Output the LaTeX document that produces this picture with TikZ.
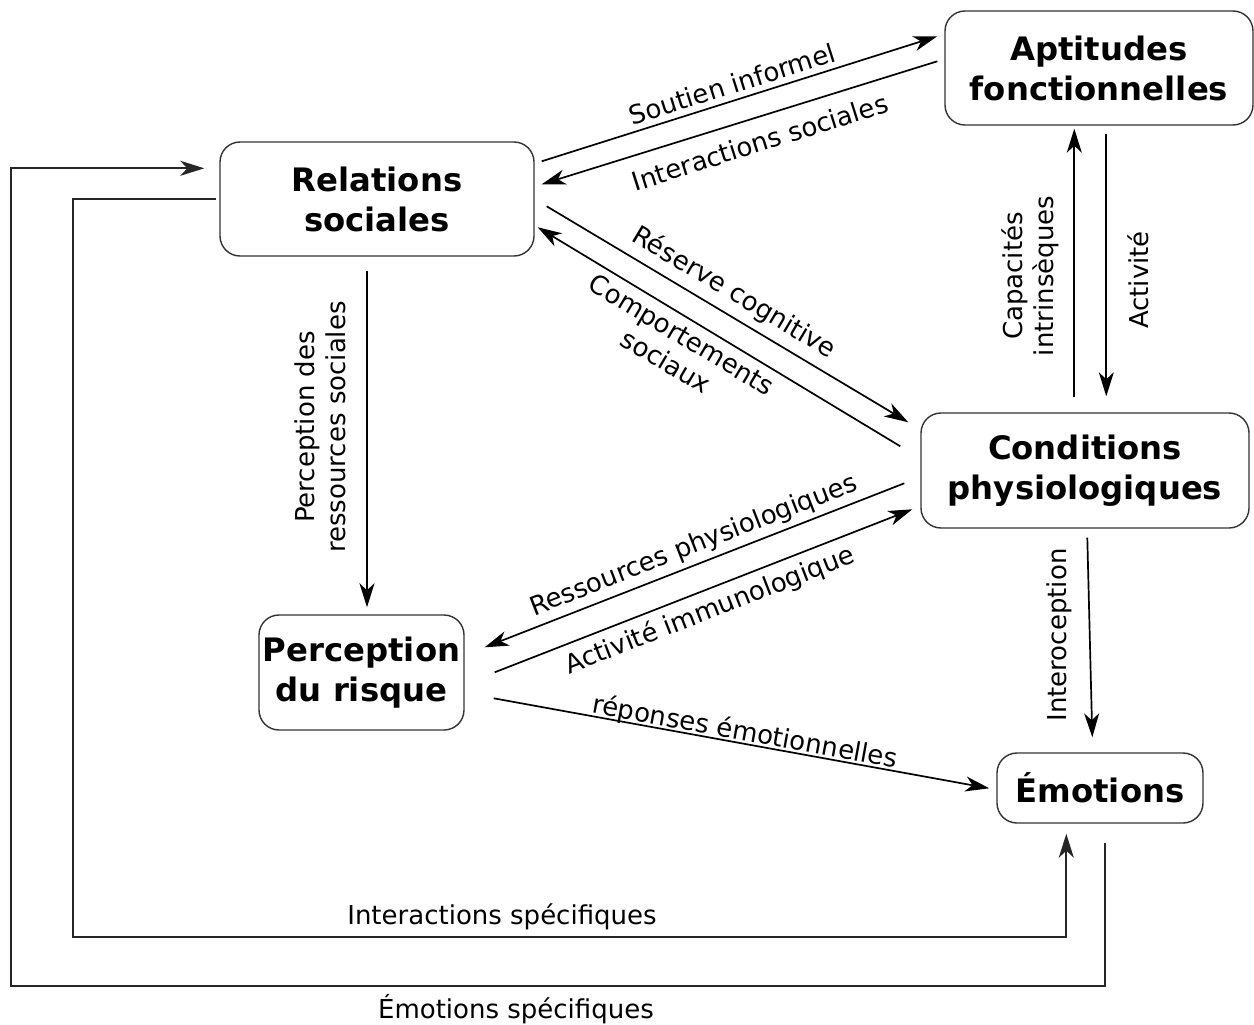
\documentclass[tikz,border=0pt]{standalone}
\usepackage{fontspec}
\setmainfont{DejaVu Sans}
\usetikzlibrary{arrows.meta,calc}
\begin{document}
\begin{tikzpicture}[x=1pt,y=-1pt,
  box/.style={draw=black!80,line width=1.4pt,rounded corners=20pt,align=center,inner sep=0pt,
    font=\fontsize{32.3}{40}\selectfont\bfseries},
  conn/.style={line width=1.7pt,-{Stealth[length=24pt,width=15pt,inset=7pt]}},
  loopline/.style={draw=black!85,line width=1.9pt,-{Stealth[length=24pt,width=15pt,inset=7pt]}},
  lbl/.style={align=center,inner sep=0pt,font=\fontsize{26}{31}\selectfont}]
\useasboundingbox (0,0) rectangle (1254,1025);
% nodes
\node[box,minimum width=308pt,minimum height=114pt] (apt) at (1099,68) {Aptitudes\\fonctionnelles};
\node[box,minimum width=314pt,minimum height=114pt] (rel) at (377,199) {Relations\\sociales};
\node[box,minimum width=328pt,minimum height=115pt] (con) at (1085,470.5) {Conditions\\physiologiques};
\node[box,minimum width=205pt,minimum height=115pt] (per) at (361.5,672.5) {Perception\\du risque};
\node[box,minimum width=206pt,minimum height=70pt] (emo) at (1100,788) {Émotions};
% connectors
\draw[conn] ($(rel.north east)+(7,20)$) -- ($(apt.north west)+(-7,26)$);
\draw[conn] ($(apt.north west)+(-7,51)$) -- ($(rel.north east)+(7,43)$);
\draw[conn] ($(rel.north east)+(12,65)$) -- ($(con.north west)+(-12,10)$);
\draw[conn] ($(con.north west)+(-20,34)$) -- ($(rel.north east)+(3,86)$);
\draw[conn] ($(con.north west)+(-16,71)$) -- ($(per.north east)+(20,33)$);
\draw[conn] ($(per.north east)+(30,58)$) -- ($(con.north west)+(-8,97)$);
\draw[conn] ($(rel.south)+(-10,14)$) -- ($(per.north)+(5.5,-7)$);
\draw[conn] ($(per.north east)+(29,84)$) -- ($(emo.north west)+(-7,36)$);
\draw[conn] ($(con.north west)+(154,-15)$) -- ($(apt.south west)+(130,3)$);
\draw[conn] ($(apt.south west)+(162,8)$) -- ($(con.north west)+(186,-16)$);
\draw[conn] ($(con.south west)+(167,9)$) -- ($(emo.north west)+(96,-15)$);
\draw[loopline] ($(rel.west)+(-3,0)$) -- ++(-143,0) -- ++(0,738) -| ($(emo.south west)+(70,10)$);
\draw[loopline] ($(emo.south west)+(109,19)$) -- ++(0,143) -- ++(-1094,0) |- ($(rel.north west)+(-15,27)$);
% labels
\node[lbl,rotate=17.5] (l1) at (732,84) {Soutien informel};
\node[lbl,rotate=17.5] (l2) at (760,142) {Interactions sociales};
\node[lbl,rotate=-30.8] (l3) at (734,293) {Réserve cognitive};
\node[lbl,rotate=-30.8] (l4) at (674,348) {Comportements\\sociaux};
\node[lbl,rotate=21.3] (l5) at (694,546) {Ressources physiologiques};
\node[lbl,rotate=21.3] (l6) at (710,611) {Activité immunologique};
\node[lbl,rotate=90] (l7) at (320,427) {Perception des\\ressources sociales};
\node[lbl,rotate=90] (l8) at (1030,276) {Capacités\\intrinsèques};
\node[lbl,rotate=90] (l9) at (1138,280) {Activité};
\node[lbl,rotate=90] (l10) at (1059,635) {Interoception};
\node[lbl,rotate=-10.3] (l11) at (745,733) {réponses émotionnelles};
\node[lbl] (l12) at (502,917) {Interactions spécifiques};
\node[lbl] (l13) at (516,1009) {Émotions spécifiques};
\end{tikzpicture}
\end{document}
